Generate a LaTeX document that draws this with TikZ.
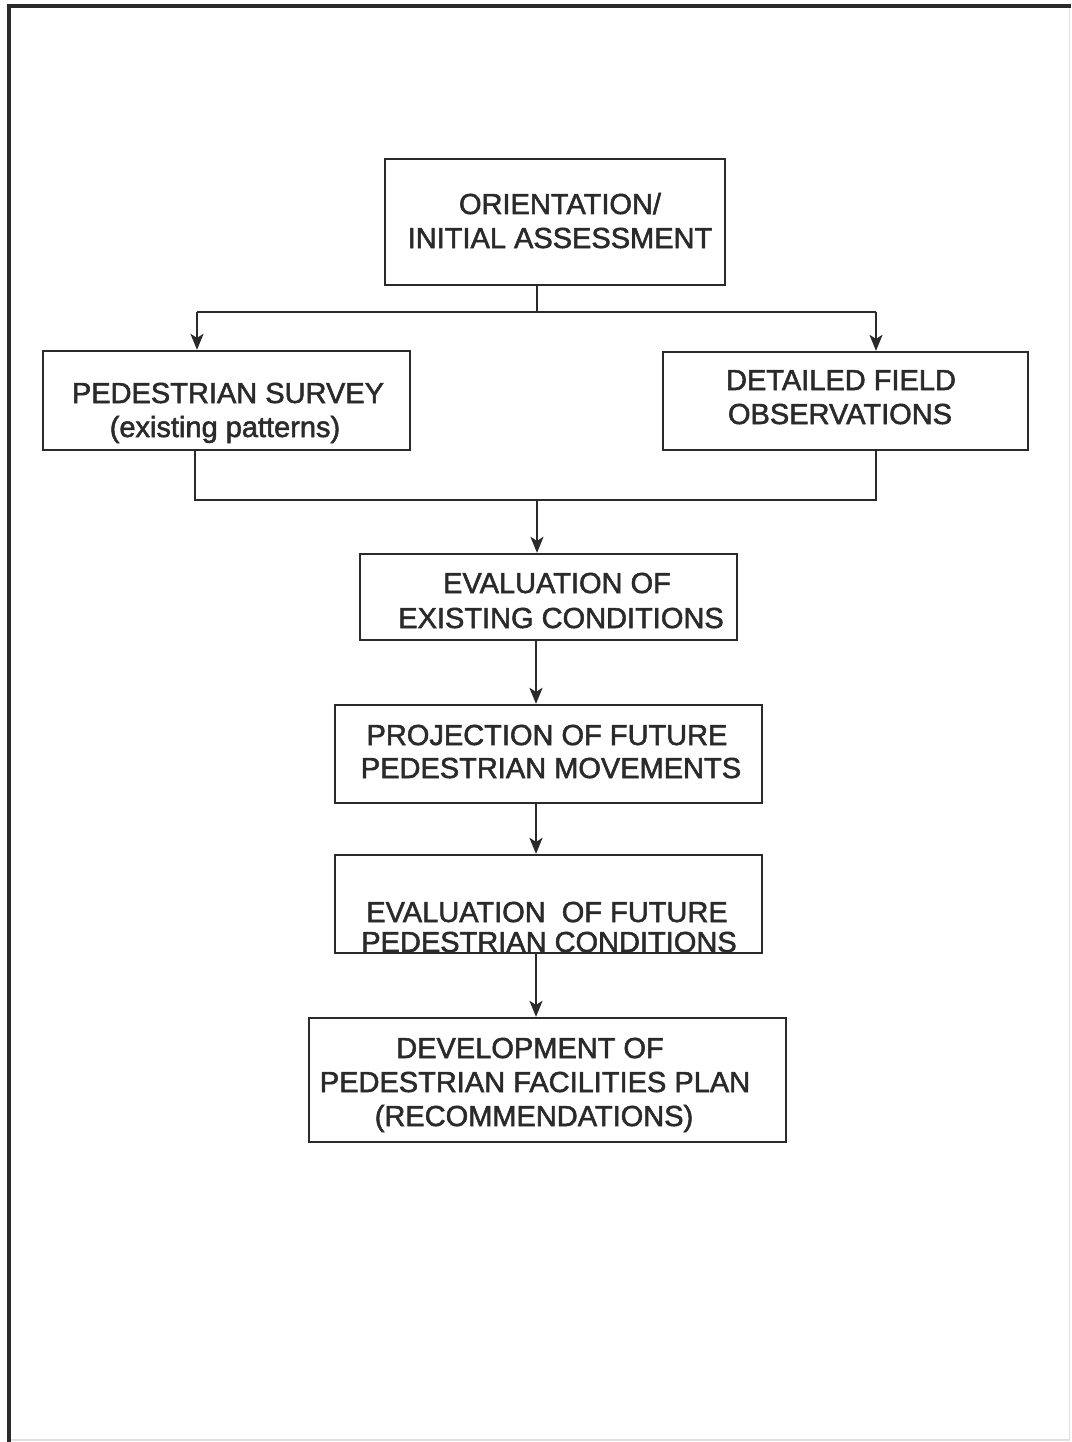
\documentclass[tikz,border=0pt]{standalone}
\usepackage{fontspec}
\setmainfont{Liberation Sans}
\newfontfamily\boxfont[FakeBold=1.8]{Liberation Sans}
\usetikzlibrary{arrows.meta}
\definecolor{ink}{HTML}{2A2A2A}
\begin{document}
\begin{tikzpicture}[x=1pt,y=-1pt,
  box/.style={draw=ink, line width=2.3pt, inner sep=0pt, anchor=center},
  txt/.style={anchor=base, inner sep=0pt, text=ink, font=\boxfont\fontsize{29}{34}\selectfont},
  conn/.style={draw=ink, line width=2pt},
  arr/.style={conn, -{Stealth[length=16pt,width=13pt,inset=4pt]}}]
\useasboundingbox (0,0) rectangle (1071,1442);
\fill[white] (0,0) rectangle (1071,1442);
% page frame
\draw[ink, line width=4pt] (9,1442) -- (9,6.5) -- (1071,6.5);
\draw[black!12, line width=1.5pt] (1069.5,8) -- (1069.5,1440) -- (11,1440);
% boxes
\node[box, minimum width=340, minimum height=126] (A) at (555,222) {};
\node[box, minimum width=367, minimum height=99] (B) at (226.5,400.5) {};
\node[box, minimum width=365, minimum height=98] (C) at (845.5,401) {};
\node[box, minimum width=377, minimum height=86] (D) at (548.5,597) {};
\node[box, minimum width=427, minimum height=98] (E) at (548.5,754) {};
\node[box, minimum width=427, minimum height=98] (F) at (548.5,904) {};
\node[box, minimum width=477, minimum height=124] (G) at (547.5,1080) {};
% texts
\node[txt] (a1) at (560,214) {ORIENTATION/};
\node[txt] (a2) at (560,248) {INITIAL ASSESSMENT};
\node[txt] (b1) at (228,403) {PEDESTRIAN SURVEY};
\node[txt] (b2) at (225,437) {(existing patterns)};
\node[txt] (c1) at (841,390) {DETAILED FIELD};
\node[txt] (c2) at (840,424) {OBSERVATIONS};
\node[txt] (d1) at (557,593) {EVALUATION OF};
\node[txt] (d2) at (561,628) {EXISTING CONDITIONS};
\node[txt] (e1) at (547,745) {PROJECTION OF FUTURE};
\node[txt] (e2) at (551,778) {PEDESTRIAN MOVEMENTS};
\node[txt] (f1) at (547,922) {EVALUATION \ OF FUTURE};
\node[txt] (f2) at (549,952) {PEDESTRIAN CONDITIONS};
\node[txt] (g1) at (530,1058) {DEVELOPMENT OF};
\node[txt] (g2) at (535,1092) {PEDESTRIAN FACILITIES PLAN};
\node[txt] (g3) at (534,1126) {(RECOMMENDATIONS)};
% junctions
\coordinate (jT) at (537,312);
\coordinate (jL) at (197,312);
\coordinate (jR) at (876,312);
\coordinate (kL) at (195,500);
\coordinate (kM) at (537,500);
\coordinate (kR) at (876,500);
\coordinate (m) at (536,0);
% connectors
\draw[conn] (A.south -| jT) -- (jT);
\draw[conn] (jL) -- (jR);
\draw[arr] (jL) -- (B.north -| jL);
\draw[arr] (jR) -- (C.north -| jR);
\draw[conn] (B.south -| kL) -- (kL) -- (kR) -- (C.south -| kR);
\draw[arr] (kM) -- (D.north -| kM);
\draw[arr] (D.south -| m) -- (E.north -| m);
\draw[arr] (E.south -| m) -- (F.north -| m);
\draw[arr] (F.south -| m) -- (G.north -| m);
\end{tikzpicture}
\end{document}
